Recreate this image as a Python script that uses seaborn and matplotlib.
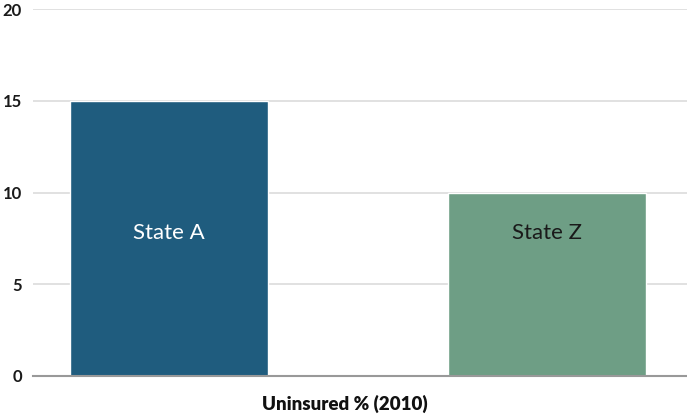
import matplotlib
matplotlib.use('Agg')
import matplotlib.pyplot as plt
import seaborn as sns
import pandas as pd

states = ['State A', 'State Z']
uninsured = [15, 10]
colors = ['#1f5c7e', '#6e9e85']
label_colors = ['white', '#1a1a1a']

sns.set_style('white')
plt.rcParams['font.family'] = ['Lato', 'DejaVu Sans']

df = pd.DataFrame({'state': states, 'uninsured': uninsured})

fig = plt.figure(figsize=(6.87, 4.15), dpi=100)
ax = fig.add_axes([0.048, 0.094, 0.952, 0.884])
sns.barplot(data=df, x='state', y='uninsured', hue='state', palette=colors,
            width=0.525, legend=False, saturation=1, ax=ax)

ax.set_ylim(0, 20)
ax.set_xlim(-0.36, 1.37)
ax.set_yticks([0, 5, 10, 15, 20])
ax.yaxis.grid(True, color='#dcdcdc', linewidth=1.2)
ax.set_axisbelow(True)
for s in ['top', 'right', 'left']:
    ax.spines[s].set_visible(False)
ax.spines['bottom'].set_color('#999999')
ax.spines['bottom'].set_linewidth(1.5)
ax.tick_params(axis='y', length=0, pad=8, labelsize=12, labelcolor='#1a1a1a')
for t in ax.get_yticklabels():
    t.set_fontweight('bold')
ax.set_xticks([])
ax.set_ylabel('')
ax.set_xlabel('Uninsured % (2010)', fontsize=13.5, fontweight='heavy',
              color='#111111')
ax.xaxis.set_label_coords(0.477, -0.05)

# labels inside bars
for i, (name, c) in enumerate(zip(states, label_colors)):
    ax.text(i, 7.8, name, ha='center', va='center', color=c, fontsize=16)

fig.savefig('out.png', dpi=100)
